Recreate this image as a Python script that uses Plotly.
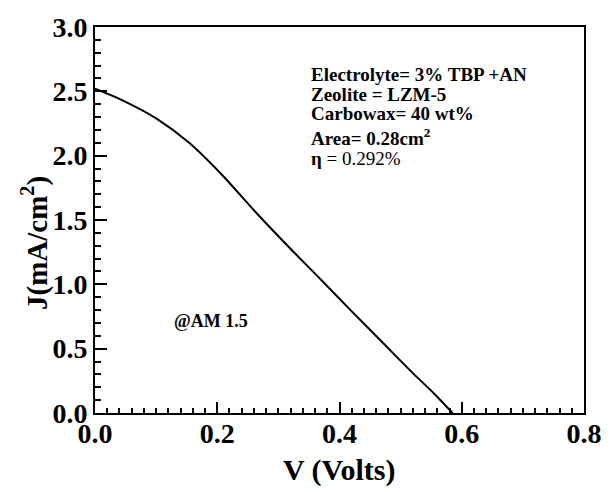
import plotly.graph_objects as go

# J-V curve
voltage = [0.0, 0.045, 0.10, 0.154, 0.208, 0.263, 0.317, 0.371, 0.42, 0.47, 0.52, 0.555, 0.585]
current = [2.52, 2.43, 2.29, 2.10, 1.85, 1.56, 1.29, 1.03, 0.79, 0.55, 0.31, 0.15, 0.0]

x_range = [0, 0.8]
y_range = [0, 3.0]

info_lines = [
    ("<b>Electrolyte= 3% TBP +AN</b>", 71),
    ("<b>Zeolite = LZM-5</b>", 91),
    ("<b>Carbowax= 40 wt%</b>", 110),
    ("<b>Area= 0.28cm<sup>2</sup></b>", 134),
    ("<b>η</b> = 0.292%", 156),
]

FONT = "Liberation Serif"
L, R, T, B = 95, 28, 23, 79
W, H = 614, 492
PW, PH = W - L - R, H - T - B

def px_to_paper(px, py):
    return (px - L) / PW, (H - B - py) / PH

fig = go.Figure()
fig.add_trace(go.Scatter(
    x=voltage, y=current, mode="lines",
    line=dict(color="black", width=2, shape="spline", smoothing=0.8),
    showlegend=False, hoverinfo="skip",
))

axis_common = dict(
    showgrid=False, zeroline=False, showline=True, linecolor="black",
    linewidth=2, mirror=True, ticks="inside", tickcolor="black",
    tickwidth=2, tickformat=".1f", tickmode="linear", tick0=0,
    tickfont=dict(family=FONT, size=28, color="black", weight="bold"),
)

fig.update_xaxes(
    range=x_range, dtick=0.2,
    ticklen=11, ticklabelstandoff=-6,
    minor=dict(dtick=0.02, tick0=0, ticks="inside", ticklen=5, tickcolor="black", tickwidth=1.5, showgrid=False),
    **axis_common,
)
fig.update_yaxes(
    range=y_range, dtick=0.5,
    ticklen=12, ticklabelstandoff=0,
    minor=dict(dtick=0.1, tick0=0, ticks="inside", ticklen=6, tickcolor="black", tickwidth=1.5, showgrid=False),
    **axis_common,
)

annotations = []
for text, py in info_lines:
    ax, ay = px_to_paper(310, py)
    annotations.append(dict(
        text=text, x=ax, y=ay, xref="paper", yref="paper",
        xanchor="left", yanchor="middle", showarrow=False,
        font=dict(family=FONT, size=19, color="black"),
    ))

ax, ay = px_to_paper(172, 320)
annotations.append(dict(
    text="<b>@AM 1.5</b>", x=ax, y=ay, xref="paper", yref="paper",
    xanchor="left", yanchor="middle", showarrow=False,
    font=dict(family=FONT, size=18, color="black"),
))

ax, ay = px_to_paper(341, 471)
annotations.append(dict(
    text="<b>V (Volts)</b>", x=ax, y=ay, xref="paper", yref="paper",
    xanchor="center", yanchor="middle", showarrow=False,
    font=dict(family=FONT, size=30, color="black"),
))

ax, ay = px_to_paper(35, 241)
annotations.append(dict(
    text="<b>J(mA/cm<sup>2</sup>)</b>", x=ax, y=ay, xref="paper", yref="paper",
    xanchor="center", yanchor="middle", showarrow=False, textangle=-90,
    font=dict(family=FONT, size=29, color="black"),
))

fig.update_layout(
    width=W, height=H,
    margin=dict(l=L, r=R, t=T, b=B),
    paper_bgcolor="white", plot_bgcolor="white",
    annotations=annotations,
)

fig.write_html("out.html", config={"displayModeBar": False},
               post_script="document.body.style.margin='0';")
